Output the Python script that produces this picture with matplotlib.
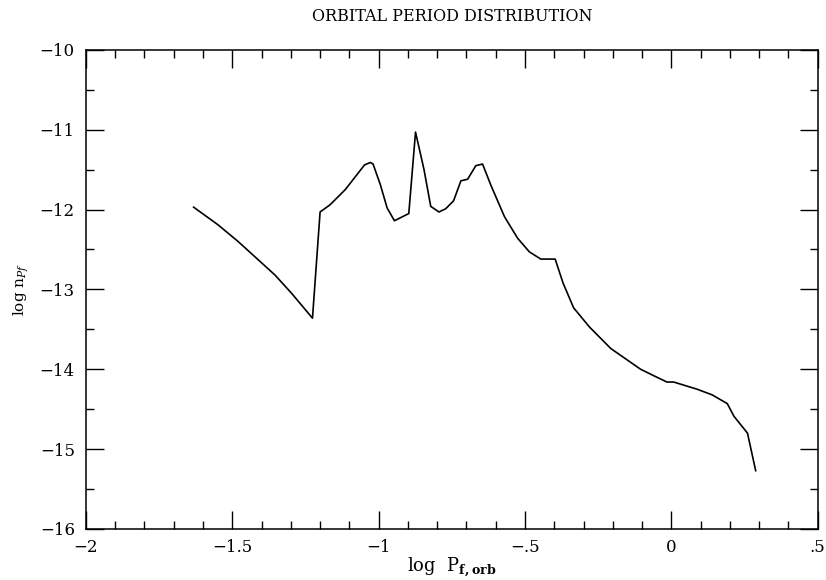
import numpy as np
import matplotlib
matplotlib.use('Agg')
import matplotlib.pyplot as plt
from matplotlib.ticker import FixedLocator, FixedFormatter, MultipleLocator

# curva (log P, log n)
log_p = [-1.632, -1.549, -1.480, -1.417, -1.354, -1.297, -1.226, -1.200, -1.166,
         -1.114, -1.048, -1.028, -1.019, -0.994, -0.971, -0.946, -0.897, -0.874,
         -0.856, -0.845, -0.822, -0.794, -0.771, -0.744, -0.719, -0.696, -0.668,
         -0.645, -0.616, -0.570, -0.525, -0.485, -0.446, -0.397, -0.370, -0.334,
         -0.280, -0.207, -0.105, -0.055, -0.015, 0.008, 0.088, 0.139, 0.191,
         0.214, 0.260, 0.288]
log_n = [-11.97, -12.19, -12.40, -12.61, -12.82, -13.05, -13.36, -12.03, -11.94,
         -11.75, -11.44, -11.41, -11.43, -11.69, -11.98, -12.14, -12.05, -11.03,
         -11.32, -11.50, -11.96, -12.03, -11.99, -11.89, -11.64, -11.62, -11.45,
         -11.43, -11.70, -12.09, -12.36, -12.53, -12.62, -12.62, -12.92, -13.23,
         -13.47, -13.74, -14.00, -14.09, -14.16, -14.16, -14.25, -14.32, -14.43,
         -14.59, -14.80, -15.27]

x_ticks = [-2, -1.5, -1, -0.5, 0, 0.5]
x_labels = ['\u22122', '\u22121.5', '\u22121', '\u2212.5', '0', '.5']
y_ticks = [-16, -15, -14, -13, -12, -11, -10]
y_labels = ['\u221216', '\u221215', '\u221214', '\u221213', '\u221212', '\u221211', '\u221210']

plt.rcParams['font.family'] = ['DejaVu Serif']
plt.rcParams['mathtext.fontset'] = 'dejavuserif'

fig = plt.figure(figsize=(8.26, 5.8), dpi=100)
ax = fig.add_axes([0.104, 0.088, 0.886, 0.826])

ax.plot(log_p, log_n, color='black', lw=1.2)

ax.set_xlim(-2, 0.5)
ax.set_ylim(-16, -10)
ax.xaxis.set_major_locator(FixedLocator(x_ticks))
ax.xaxis.set_major_formatter(FixedFormatter(x_labels))
ax.yaxis.set_major_locator(FixedLocator(y_ticks))
ax.yaxis.set_major_formatter(FixedFormatter(y_labels))
ax.xaxis.set_minor_locator(MultipleLocator(0.1))
ax.yaxis.set_minor_locator(MultipleLocator(0.5))
ax.tick_params(which='both', direction='in', top=True, right=True, labelsize=12, width=1)
ax.tick_params(which='major', length=13)
ax.tick_params(axis='x', which='major', pad=7)
ax.tick_params(axis='y', which='major', pad=8)
ax.tick_params(which='minor', length=6)
for s in ax.spines.values():
    s.set_linewidth(1.1)

ax.set_title('ORBITAL PERIOD DISTRIBUTION', fontsize=11.5, pad=21)
ax.set_xlabel(r'log  $\mathregular{P}_{\mathbf{f,orb}}$', fontsize=13, labelpad=0)
ax.set_ylabel(r'log $\mathregular{n}_{Pf}$', fontsize=11, labelpad=6)

fig.savefig('out.png', dpi=100)
